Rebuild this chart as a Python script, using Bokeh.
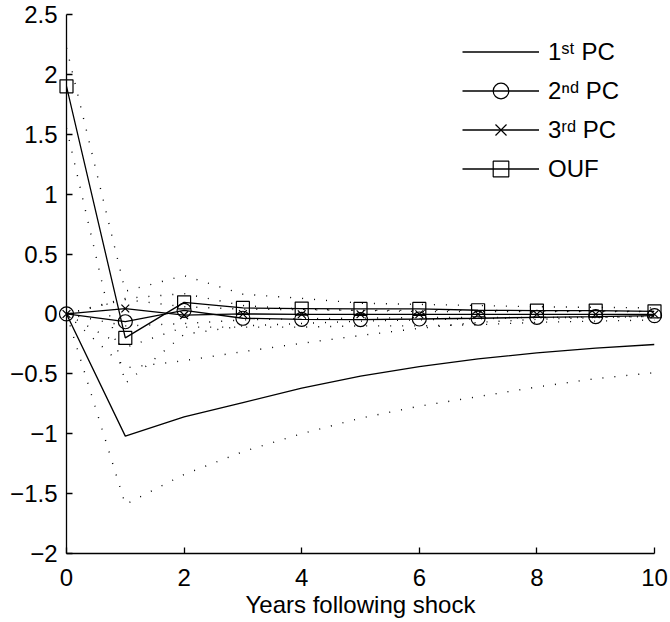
from bokeh.plotting import figure
from bokeh.models import Range1d, Legend, LegendItem, FixedTicker, CustomJSTickFormatter
from bokeh.embed import file_html
from bokeh.resources import INLINE

years = list(range(11))

pc1 = [0, -1.02, -0.86, -0.74, -0.62, -0.52, -0.44, -0.375, -0.325, -0.286, -0.255]
pc1_upper = [0, -0.45, -0.39, -0.315, -0.245, -0.18, -0.12, -0.07, -0.045, -0.03, -0.02]
pc1_lower = [0, -1.59, -1.34, -1.15, -1.0, -0.87, -0.77, -0.69, -0.61, -0.54, -0.49]

pc2 = [0, -0.065, 0.03, -0.036, -0.045, -0.047, -0.042, -0.036, -0.028, -0.022, -0.014]
pc2_upper = [0, 0.13, 0.17, 0.07, 0.04, 0.03, 0.02, 0.02, 0.02, 0.02, 0.02]
pc2_lower = [0, -0.28, -0.11, -0.11, -0.11, -0.10, -0.10, -0.09, -0.07, -0.06, -0.05]

pc3 = [0, 0.045, -0.01, 0.0, -0.003, -0.003, -0.003, -0.003, -0.003, -0.003, -0.003]
pc3_upper = [0, 0.12, 0.06, 0.04, 0.035, 0.03, 0.03, 0.03, 0.025, 0.025, 0.02]
pc3_lower = [0, -0.10, -0.08, -0.05, -0.04, -0.035, -0.03, -0.03, -0.03, -0.025, -0.02]

ouf = [1.9, -0.2, 0.097, 0.05, 0.045, 0.042, 0.042, 0.031, 0.028, 0.028, 0.022]
ouf_upper = [2.22, 0.19, 0.32, 0.165, 0.13, 0.09, 0.08, 0.07, 0.06, 0.055, 0.05]
ouf_lower = [1.55, -0.58, -0.17, -0.10, -0.08, -0.06, -0.05, -0.04, -0.03, -0.03, -0.02]

x_ticks = [0, 2, 4, 6, 8, 10]
y_ticks = [-2, -1.5, -1, -0.5, 0, 0.5, 1, 1.5, 2, 2.5]
labels = ["1\u02e2\u1d57 PC", "2\u207f\u1d48 PC", "3\u02b3\u1d48 PC", "OUF"]
x_label = "Years following shock"

FONT = "Liberation Sans"

p = figure(frame_width=588, frame_height=539,
           min_border_left=66, min_border_right=15, min_border_top=14, min_border_bottom=66,
           x_range=Range1d(0, 10), y_range=Range1d(-2, 2.5),
           output_backend="svg", toolbar_location=None, tools="")
p.outline_line_color = None
p.xgrid.visible = False
p.ygrid.visible = False
p.background_fill_color = "white"
p.border_fill_color = "white"

# dotted confidence bands
for band in [pc1_upper, pc1_lower, pc2_upper, pc2_lower, pc3_upper, pc3_lower, ouf_upper, ouf_lower]:
    p.line(years, band, line_color="black", line_width=1.4, line_dash="1 11")

lw = 1.3
r1 = p.line(years, pc1, line_color="black", line_width=lw)
r2l = p.line(years, pc2, line_color="black", line_width=lw)
r2m = p.scatter(years, pc2, marker="circle", size=14, fill_color=None, line_color="black",
                line_width=1.2, level="overlay")
r3l = p.line(years, pc3, line_color="black", line_width=lw)
r3m = p.scatter(years, pc3, marker="x", size=11, line_color="black", line_width=1.2, level="overlay")
r4l = p.line(years, ouf, line_color="black", line_width=lw)
r4m = p.scatter(years, ouf, marker="square", size=13, fill_color=None, line_color="black",
                line_width=1.2, level="overlay")

legend = Legend(items=[
    LegendItem(label=labels[0], renderers=[r1]),
    LegendItem(label=labels[1], renderers=[r2l, r2m]),
    LegendItem(label=labels[2], renderers=[r3l, r3m]),
    LegendItem(label=labels[3], renderers=[r4l, r4m]),
], location=(396, 365), padding=0, margin=0, spacing=0,
   glyph_width=77, glyph_height=39, label_height=39, label_standoff=9,
   border_line_color=None, background_fill_alpha=0,
   label_text_font=FONT, label_text_font_size="24px", label_text_color="black")
p.add_layout(legend)

fmt = CustomJSTickFormatter(code="return (tick < 0 ? '\u2212' : '') + Math.abs(tick).toString();")

for ax, ticks in ((p.xaxis[0], x_ticks), (p.yaxis[0], y_ticks)):
    ax.ticker = FixedTicker(ticks=ticks)
    ax.formatter = fmt
    ax.major_tick_in = 6
    ax.major_tick_out = 0
    ax.minor_tick_line_color = None
    ax.axis_line_width = 1.3
    ax.major_tick_line_width = 1.3
    ax.axis_line_color = "black"
    ax.major_tick_line_color = "black"
    ax.major_label_text_font = FONT
    ax.major_label_text_font_size = "24px"
    ax.major_label_text_color = "black"

p.xaxis.major_label_standoff = 15
p.yaxis.major_label_standoff = 9
p.xaxis.axis_label = x_label
p.xaxis.axis_label_text_font = FONT
p.xaxis.axis_label_text_font_size = "24px"
p.xaxis.axis_label_text_font_style = "normal"
p.xaxis.axis_label_text_color = "black"
p.xaxis.axis_label_standoff = 2

open("out.html", "w").write(file_html(p, INLINE))
